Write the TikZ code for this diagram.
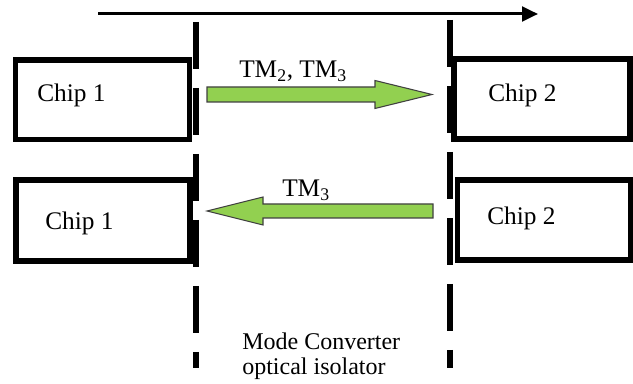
\documentclass[tikz,border=0pt]{standalone}
\usepackage{fontspec}
\setmainfont{Liberation Serif}
\usetikzlibrary{arrows.meta}
\definecolor{beamgreen}{HTML}{92D050}

\begin{document}
\begin{tikzpicture}[
    x=0.75pt, y=-0.75pt,
    % Style for the chip boxes (thick black frames)
    chip/.style={rectangle, draw=black, line width=4pt, inner sep=0pt},
    % Style for the text labels
    lbl/.style={font=\fontsize{19}{18.75}\selectfont, inner sep=0pt},
    % Style for the dashed converter / isolator planes
    plane/.style={line width=4.5pt, dash pattern=on 35.25pt off 14.25pt},
    % Style for the green block arrows
    beam/.style={fill=beamgreen, draw=black!75, line width=0.8pt, line join=miter}
]
\useasboundingbox (0,0) rectangle (633,384);

% ==========================
% Chips
% ==========================
\node[chip, minimum width=130.5pt, minimum height=59.6pt] (chipAt) at (102.5,99.75) {};
\node[chip, minimum width=132pt, minimum height=60pt] (chipBt) at (542,99) {};
\node[chip, minimum width=130.5pt, minimum height=60.75pt] (chipAb) at (103,220.5) {};
\node[chip, minimum width=129.4pt, minimum height=60pt] (chipBb) at (544,220) {};

\node[lbl, anchor=base west] (labAt) at (37,102) {Chip 1};
\node[lbl, anchor=base west] (labBt) at (488,102) {Chip 2};
\node[lbl, anchor=base west] (labAb) at (45,230) {Chip 1};
\node[lbl, anchor=base west] (labBb) at (487,225) {Chip 2};

% ==========================
% Converter planes
% ==========================
\coordinate (planeAt) at (196,22);
\coordinate (planeAb) at (196,368);
\coordinate (planeBt) at (450,20);
\coordinate (planeBb) at (450,368);
\draw[plane] (planeAt) -- (planeAb);
\draw[plane] (planeBt) -- (planeBb);

% ==========================
% Direction arrow
% ==========================
\coordinate (dirS) at (98,14);
\coordinate (dirE) at (538,14);
\draw[line width=2.25pt, -{Triangle[length=12pt, width=11pt]}] (dirS) -- (dirE);

% ==========================
% Forward beam
% ==========================
\draw[beam] (207,87) -- (375,87) -- (375,80.5) -- (432,94.5)
    -- (375,108.5) -- (375,102) -- (207,102) -- cycle;
\node[lbl, anchor=base west] (labFwd) at (239,78) {TM\textsubscript{2}, TM\textsubscript{3}};

% ==========================
% Backward beam
% ==========================
\draw[beam] (433,204) -- (263,204) -- (263,197) -- (207,211)
    -- (263,225) -- (263,218) -- (433,218) -- cycle;
\node[lbl, anchor=base west] (labBwd) at (282,197) {TM\textsubscript{3}};

\node[lbl, font=\fontsize{18}{18.75}\selectfont, align=left, anchor=west] (labConv) at (242,356) {Mode Converter\\optical isolator};

\end{tikzpicture}
\end{document}
